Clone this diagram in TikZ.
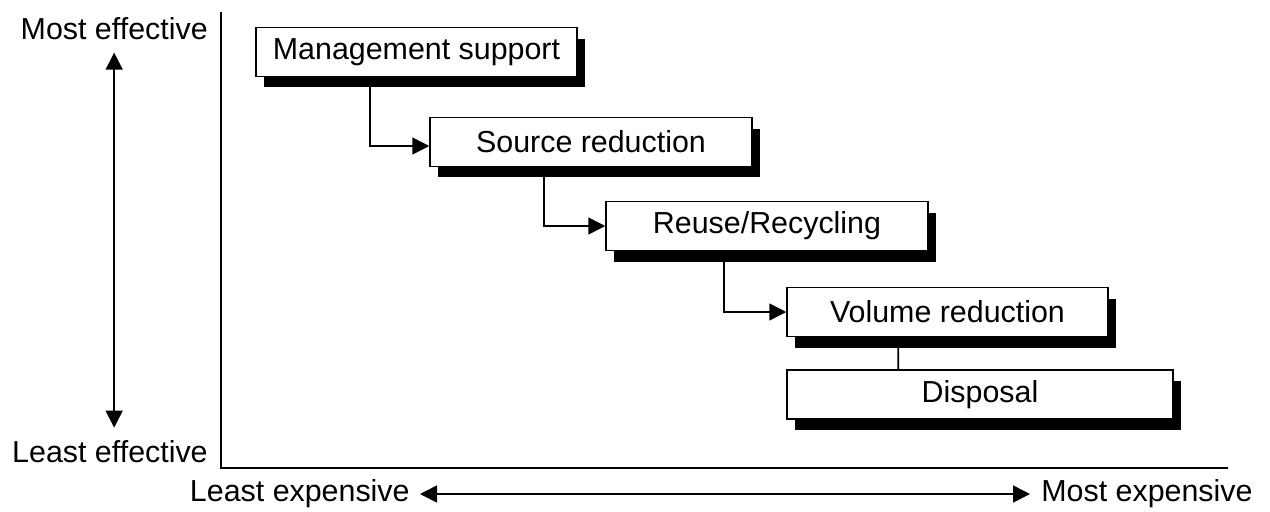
\documentclass[tikz,border=0pt]{standalone}
\usepackage{fontspec}
\setmainfont{Liberation Sans}
\usetikzlibrary{arrows.meta,shadows}

\begin{document}
\begin{tikzpicture}[x=0.02cm,y=-0.02cm,
    >={Triangle[length=0.34cm,width=0.34cm]},
    every node/.style={font=\fontsize{17.3}{20}\selectfont, inner sep=0pt},
    link/.style={->, line width=0.9pt},
    stage/.style={draw, fill=white, line width=0.9pt, minimum height=0.98cm,
        drop shadow={shadow xshift=0.16cm, shadow yshift=-0.22cm, fill=black, opacity=1}}]
    \useasboundingbox (0,0) rectangle (1270,511);
    % Axes
    \draw[line width=0.9pt] (221,12) -- (221,468) -- (1228,468);
    % Axis labels
    \node[anchor=base east] (mosteff) at (208,39) {Most effective};
    \node[anchor=base east] (leasteff) at (208,462) {Least effective};
    \node[anchor=east] (leastexp) at (410,494) {Least expensive};
    \node[anchor=west] (mostexp) at (1041,494) {Most expensive};
    \draw[<->, line width=0.9pt] ([yshift=-0.26cm]mosteff.south)
        -- ([yshift=0.24cm]mosteff.south |- leasteff.north);
    \draw[<->, line width=0.9pt] ([xshift=0.2cm]leastexp.east) -- ([xshift=-0.22cm]mostexp.west);
    % --- Stages ---
    \node[stage, minimum width=6.42cm] (ms) at (416.5,52) {Management support};
    \node[stage, minimum width=6.44cm] (sr) at (591,142) {Source reduction};
    \node[stage, minimum width=6.44cm] (rr) at (767,226) {Reuse/Recycling};
    \node[stage, minimum width=6.42cm] (vr) at (947.5,312) {Volume reduction};
    \node[stage, minimum width=7.72cm] (disp) at (980,394.5) {Disposal};
    % Steps down
    \draw[link] ([xshift=2.3cm]ms.south west) |- ([yshift=-0.08cm]sr.west);
    \draw[link] ([xshift=2.3cm]sr.south west) |- (rr.west);
    \draw[link] ([xshift=2.38cm]rr.south west) |- (vr.west);
    \draw[line width=0.9pt] ([xshift=2.24cm]vr.south west) -- ([xshift=2.24cm]disp.north west);
\end{tikzpicture}
\end{document}
